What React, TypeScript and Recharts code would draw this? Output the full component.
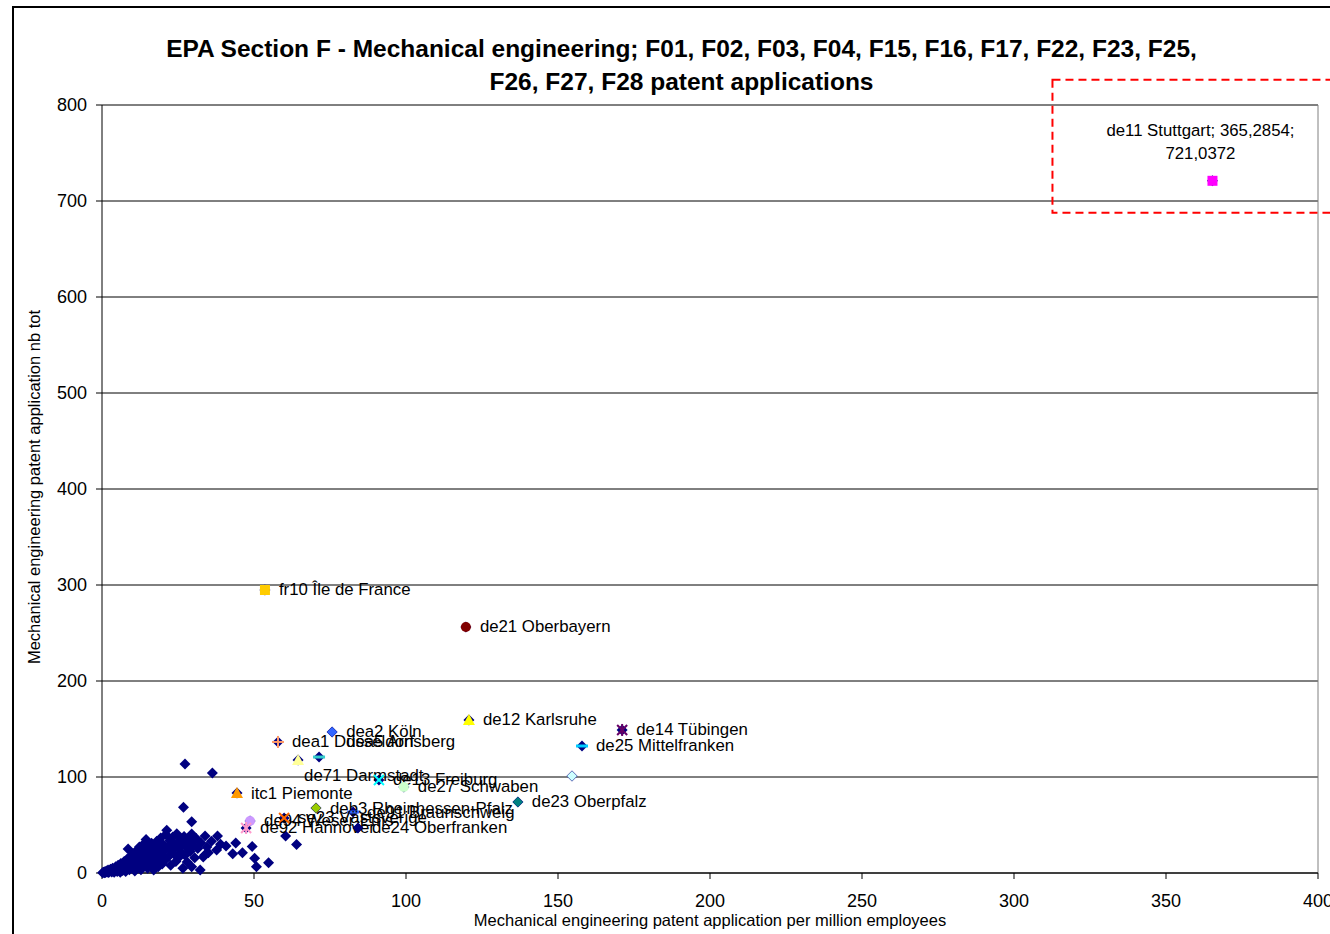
import { CartesianGrid, ReferenceLine, Scatter, ScatterChart, XAxis, YAxis } from "recharts"

const xTicks = [0, 50, 100, 150, 200, 250, 300, 350, 400]
const yTicks = [0, 100, 200, 300, 400, 500, 600, 700, 800]

// highlighted regions
const regionCodes = [
  "de11", "fr10", "de21", "de12", "de14", "de25", "dea2", "dea1", "de71", "dea5",
  "de13", "de27", "de26", "itc1", "de23", "deb3", "de91", "de94", "se23", "de92", "de24",
]
const regionLabels = [
  "de11 Stuttgart", "fr10 Île de France", "de21 Oberbayern", "de12 Karlsruhe", "de14 Tübingen",
  "de25 Mittelfranken", "dea2 Köln", "dea1 Düsseldorf", "de71 Darmstadt", "dea5 Arnsberg",
  "de13 Freiburg", "de27 Schwaben", "", "itc1 Piemonte", "de23 Oberpfalz",
  "deb3 Rheinhessen-Pfalz", "de91 Braunschweig", "de94 Weser-Ems", "se23 Västsverige",
  "de92 Hannover", "de24 Oberfranken",
]
const regionX = [
  365.2854, 53.6, 119.7, 120.7, 171.1, 157.9, 75.7, 57.9, 64.5, 71.4,
  91.1, 99.3, 154.6, 44.4, 136.8, 70.4, 82.6, 48.7, 59.9, 47.4, 84.2,
]
const regionY = [
  721.0372, 294.8, 256.3, 159.4, 149, 132.3, 146.9, 136.5, 117.7, 120.8,
  96.9, 89.6, 101, 83.3, 74, 67.7, 63.5, 54.2, 57.3, 46.9, 46.9,
]

// all other regions: [per million employees, total applications]
const otherRegions: [number, number][] = [
  [0.2, 0.2], [0.5, 0.8], [0.8, 0.3], [1.0, 1.5], [1.2, 0.6], [1.5, 2.2], [1.8, 1.0], [2.0, 3.0],
  [2.2, 0.5], [2.5, 1.8], [2.8, 4.0], [3.0, 2.6], [3.2, 1.0], [3.5, 5.0], [3.8, 3.2], [4.0, 0.8],
  [4.2, 2.0], [4.5, 6.5], [4.8, 4.2], [5.0, 1.5], [5.3, 8.0], [5.5, 3.0], [5.8, 5.5], [6.0, 0.8],
  [6.2, 10.0], [6.5, 6.8], [6.8, 2.5], [7.0, 4.5], [7.3, 12.0], [7.5, 8.5], [7.8, 1.5], [8.0, 6.0],
  [8.3, 14.5], [8.6, 25.0], [8.8, 10.5], [9.0, 3.5], [9.3, 7.5], [9.5, 17.0], [9.8, 12.5], [10.0, 5.0],
  [10.3, 20.0], [10.5, 9.0], [10.8, 2.0], [11.0, 14.0], [11.3, 23.0], [11.5, 11.0], [11.8, 6.5],
  [12.0, 17.5], [12.3, 27.0], [12.5, 13.0], [12.8, 3.5], [13.0, 20.5], [13.3, 8.5], [13.5, 15.5],
  [13.8, 30.5], [14.0, 24.0], [14.3, 11.0], [14.5, 35.0], [14.8, 18.0], [15.0, 5.0], [15.3, 27.0],
  [15.5, 13.5], [15.8, 21.0], [16.0, 8.0], [16.3, 31.0], [16.5, 16.0], [16.8, 24.5], [17.0, 3.0],
  [17.3, 19.5], [17.5, 28.5], [17.8, 11.5], [18.0, 33.0], [18.3, 22.0], [18.5, 6.5], [18.8, 15.0],
  [19.0, 26.0], [19.3, 36.5], [19.5, 18.5], [19.8, 9.5], [20.0, 30.0], [20.3, 22.5], [20.6, 13.0],
  [21.0, 40.0], [21.3, 44.5], [21.6, 27.0], [22.0, 17.5], [22.3, 33.5], [22.6, 8.0], [23.0, 24.0],
  [23.3, 37.5], [23.6, 20.0], [24.0, 29.5], [24.3, 12.0], [24.6, 41.0], [25.0, 26.5], [25.3, 16.5],
  [25.6, 34.0], [26.0, 22.0], [26.3, 30.0], [26.6, 5.0], [27.0, 38.0], [27.3, 18.5], [27.6, 27.5],
  [28.0, 11.5], [28.5, 33.0], [29.0, 22.5], [29.5, 40.5], [29.5, 6.6], [30.0, 29.0], [30.5, 16.0],
  [31.0, 36.0], [31.5, 25.5], [32.3, 3.0], [32.5, 31.5], [33.3, 16.7], [33.9, 38.5], [34.5, 27.0],
  [35.0, 21.0], [36.0, 33.0], [37.7, 24.0], [38.0, 38.5], [39.0, 30.0], [33.8, 18.8], [28.9, 34.4],
  [27.3, 113.5], [36.3, 104.2], [26.8, 68.5], [29.5, 53.4], [44.0, 31.2], [49.4, 27.7], [46.2, 21.2],
  [50.2, 15.3], [54.8, 10.7], [50.8, 6.6], [60.4, 38.5], [64.0, 29.7], [40.8, 28.0], [43.0, 20.0],
]

const markerStyle: Record<string, { shape: string; color: string }> = {
  de11: { shape: "square", color: "#FF00FF" },
  fr10: { shape: "square", color: "#FFCC00" },
  de21: { shape: "circle", color: "#800000" },
  de12: { shape: "triangle", color: "#FFFF00" },
  de14: { shape: "star", color: "#660066" },
  de25: { shape: "dash", color: "#00CCFF" },
  dea2: { shape: "diamond", color: "#3366FF" },
  dea1: { shape: "plus", color: "#FF9966" },
  de71: { shape: "triangle", color: "#FFFF99" },
  dea5: { shape: "dash", color: "#33CCCC" },
  de13: { shape: "x", color: "#00FFFF" },
  de27: { shape: "circle", color: "#CCFFCC" },
  de26: { shape: "diamond", color: "#CCFFFF" },
  itc1: { shape: "triangle", color: "#FF9900" },
  de23: { shape: "diamond", color: "#008080" },
  deb3: { shape: "diamond", color: "#99CC00" },
  de91: { shape: "dash", color: "#3366FF" },
  de94: { shape: "circle", color: "#CC99FF" },
  se23: { shape: "x", color: "#FF6600" },
  de92: { shape: "star", color: "#FF99CC" },
  de24: { shape: "diamond", color: "#000080" },
}

const labelNudge: Record<string, [number, number]> = {
  de71: [-8, 15],
  dea5: [13, -16],
}

const highlighted = regionCodes.map((code, i) => ({
  code,
  label: regionLabels[i],
  x: regionX[i],
  y: regionY[i],
}))
const allPoints = [
  ...otherRegions.map(([x, y]) => ({ x, y })),
  ...highlighted.map((r) => ({ x: r.x, y: r.y })),
]

const font = "'Liberation Sans', Arial, sans-serif"

function NavyDiamond(props: any) {
  const { cx, cy } = props
  const h = 5.5
  return (
    <polygon
      points={`${cx},${cy - h} ${cx + h},${cy} ${cx},${cy + h} ${cx - h},${cy}`}
      fill="#000080"
    />
  )
}

function Marker({ cx, cy, shape, color }: { cx: number; cy: number; shape: string; color: string }) {
  switch (shape) {
    case "square":
      return <rect x={cx - 5} y={cy - 5} width={10} height={10} fill={color} />
    case "circle":
      return <circle cx={cx} cy={cy} r={5} fill={color} />
    case "triangle":
      return <polygon points={`${cx},${cy - 6} ${cx + 6},${cy + 5} ${cx - 6},${cy + 5}`} fill={color} />
    case "diamond":
      return <polygon points={`${cx},${cy - 5} ${cx + 5},${cy} ${cx},${cy + 5} ${cx - 5},${cy}`} fill={color} />
    case "dash":
      return <rect x={cx - 6} y={cy - 1.5} width={12} height={3} fill={color} />
    case "plus":
      return (
        <g stroke={color} strokeWidth={2}>
          <line x1={cx - 6} y1={cy} x2={cx + 6} y2={cy} />
          <line x1={cx} y1={cy - 6} x2={cx} y2={cy + 6} />
        </g>
      )
    case "x":
      return (
        <g stroke={color} strokeWidth={2}>
          <line x1={cx - 5} y1={cy - 5} x2={cx + 5} y2={cy + 5} />
          <line x1={cx - 5} y1={cy + 5} x2={cx + 5} y2={cy - 5} />
        </g>
      )
    default:
      return (
        <g stroke={color} strokeWidth={2}>
          <line x1={cx - 5} y1={cy - 5} x2={cx + 5} y2={cy + 5} />
          <line x1={cx - 5} y1={cy + 5} x2={cx + 5} y2={cy - 5} />
          <line x1={cx} y1={cy - 6} x2={cx} y2={cy + 6} />
        </g>
      )
  }
}

function RegionPoint(props: any) {
  const { cx, cy, payload } = props
  const st = markerStyle[payload.code]
  if (payload.code === "de11") {
    return (
      <g>
        <Marker cx={cx} cy={cy} shape={st.shape} color={st.color} />
        <rect x={cx - 160} y={cy - 101} width={300} height={133} fill="none" stroke="#FF0000" strokeWidth={2} strokeDasharray="8 5" />
        <text x={cx - 12} y={cy - 50} textAnchor="middle" dominantBaseline="central" fontSize={16.8} fill="#000">
          de11 Stuttgart; 365,2854;
        </text>
        <text x={cx - 12} y={cy - 27} textAnchor="middle" dominantBaseline="central" fontSize={16.8} fill="#000">
          721,0372
        </text>
      </g>
    )
  }
  const [dx, dy] = labelNudge[payload.code] ?? [0, 0]
  return (
    <g>
      <Marker cx={cx} cy={cy} shape={st.shape} color={st.color} />
      {payload.label && (
        <text x={cx + 14 + dx} y={cy + dy} dominantBaseline="central" fontSize={16.8} fill="#000">
          {payload.label}
        </text>
      )}
    </g>
  )
}

export default function App() {
  return (
    <div style={{ position: "absolute", left: 0, top: 0, width: 1330, height: 934, overflow: "hidden", background: "#fff", fontFamily: font }}>
      <div style={{ position: "absolute", left: 12, top: 6, width: 1360, height: 960, border: "2px solid #000" }} />
      <div style={{ position: "absolute", left: 0, top: 31.5, width: 1363, textAlign: "center", fontWeight: "bold", fontSize: 24.5, lineHeight: "33px", color: "#000" }}>
        EPA Section F - Mechanical engineering; F01, F02, F03, F04, F15, F16, F17, F22, F23, F25,
        <br />
        F26, F27, F28 patent applications
      </div>
      <ScatterChart width={1330} height={934} margin={{ top: 105, right: 12, bottom: 0, left: 0 }} style={{ position: "absolute", left: 0, top: 0 }}>
        <CartesianGrid vertical={false} stroke="#000" />
        <XAxis
          type="number"
          dataKey="x"
          domain={[0, 400]}
          ticks={xTicks}
          height={61}
          stroke="#000"
          tickSize={6}
          tickMargin={15}
          tick={{ fill: "#000", fontSize: 18 }}
          interval={0}
        />
        <YAxis
          type="number"
          dataKey="y"
          domain={[0, 800]}
          ticks={yTicks}
          width={102}
          stroke="#000"
          tickSize={6}
          tickMargin={9}
          tick={{ fill: "#000", fontSize: 18 }}
          interval={0}
        />
        <ReferenceLine y={800} stroke="#808080" />
        <ReferenceLine x={400} stroke="#808080" />
        <Scatter data={allPoints} shape={NavyDiamond} isAnimationActive={false} />
        <Scatter data={highlighted} shape={RegionPoint} isAnimationActive={false} />
      </ScatterChart>
      <div style={{ position: "absolute", left: 0, top: 911, width: 1420, textAlign: "center", fontSize: 16.5, lineHeight: "18px", color: "#000" }}>
        Mechanical engineering patent application per million employees
      </div>
      <div style={{ position: "absolute", left: 34, top: 487, transform: "translate(-50%, -50%) rotate(-90deg)", whiteSpace: "nowrap", fontSize: 16.5, lineHeight: "18px", color: "#000" }}>
        Mechanical engineering patent application nb tot
      </div>
    </div>
  )
}
